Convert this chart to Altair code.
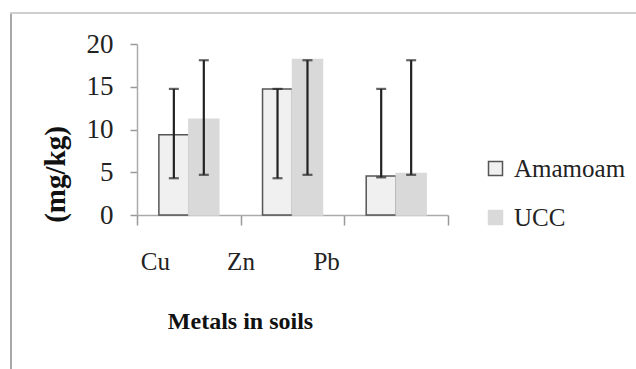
import altair as alt
import pandas as pd

metals = ["Cu", "Zn", "Pb"]
series = ["Amamoam", "UCC"]
amamoam = [9.4, 14.75, 4.55]
ucc = [11.2, 18.2, 4.85]
amamoam_low = [4.3, 4.3, 4.4]
amamoam_high = [14.75, 14.75, 14.75]
ucc_low = [4.7, 4.7, 4.7]
ucc_high = [18.1, 18.1, 18.1]
y_ticks = [0, 5, 10, 15, 20]

rows = []
for i, m in enumerate(metals):
    rows.append({"metal": m, "site": "Amamoam", "value": amamoam[i],
                 "low": amamoam_low[i], "high": amamoam_high[i]})
    rows.append({"metal": m, "site": "UCC", "value": ucc[i],
                 "low": ucc_low[i], "high": ucc_high[i]})
df = pd.DataFrame(rows)

FONT = "Times New Roman, Liberation Serif, DejaVu Serif, serif"

x_axis = alt.Axis(
    title="Metals in soils", titleFont=FONT, titleFontSize=24,
    titleFontWeight="bold", titleColor="#111",
    titleX=103, titleY=106, titleBaseline="middle", titleAlign="center",
    labelFont=FONT, labelFontSize=25, labelColor="#222", labelAngle=0,
    labelPadding=24,
    labelOffset={"condition": [
        {"test": "datum.value === 'Cu'", "value": -34},
        {"test": "datum.value === 'Zn'", "value": -52}],
        "value": -70},
    ticks=True, tickBand="extent", tickSize=10, tickColor="#999", tickWidth=1.5,
    domain=True, domainColor="#aaa", domainWidth=1.5,
)
x_enc = alt.X("metal:N", sort=metals,
              scale=alt.Scale(paddingInner=0, paddingOuter=0), axis=x_axis)
xo = alt.XOffset("site:N", sort=series,
                 scale=alt.Scale(paddingInner=0, paddingOuter=0.73))
y_scale = alt.Scale(domain=[0, 20], nice=False)

legend = alt.Legend(
    title=None, orient="none", legendX=346, legendY=112,
    symbolType="square", symbolSize=196, symbolStrokeWidth=1.5,
    labelFont=FONT, labelFontSize=25, labelColor="#222",
    rowPadding=23, labelOffset=6, labelLimit=200)

bars = alt.Chart(df).mark_bar(strokeWidth=1.5).encode(
    x=x_enc,
    xOffset=xo,
    y=alt.Y("value:Q", scale=y_scale, axis=alt.Axis(
        values=y_ticks, grid=False,
        title="(mg/kg)", titleFont=FONT, titleFontSize=29,
        titleFontWeight="bold", titleColor="#111",
        titleAngle=-90, titleBaseline="middle", titleAlign="center",
        titleX=-82, titleY=130,
        labelFont=FONT, labelFontSize=27, labelColor="#222",
        labelPadding=17, tickSize=7, tickColor="#999", tickWidth=1.5,
        domainColor="#aaa", domainWidth=1.5,
    )),
    fill=alt.Fill("site:N", sort=series,
                  scale=alt.Scale(domain=series, range=["#f0f0f0", "#d9d9d9"]),
                  legend=legend),
    stroke=alt.Stroke("site:N", sort=series,
                      scale=alt.Scale(domain=series, range=["#555555", "#d9d9d9"]),
                      legend=legend),
)

err = alt.Chart(df).mark_rule(color="#222", strokeWidth=2.2).encode(
    x=alt.X("metal:N", sort=metals, axis=x_axis),
    xOffset=xo,
    y=alt.Y("low:Q", scale=y_scale),
    y2="high:Q",
)
cap_lo = alt.Chart(df).mark_tick(color="#222", thickness=2.2, size=10).encode(
    x=alt.X("metal:N", sort=metals, axis=x_axis),
    xOffset=xo,
    y=alt.Y("low:Q", scale=y_scale),
)
cap_hi = alt.Chart(df).mark_tick(color="#222", thickness=2.2, size=10).encode(
    x=alt.X("metal:N", sort=metals, axis=x_axis),
    xOffset=xo,
    y=alt.Y("high:Q", scale=y_scale),
)

frame_left = alt.Chart(df).mark_rule(color="#a8a8a8", strokeWidth=2).encode(
    x=alt.value(-126), y=alt.value(-31), y2=alt.value(330))
frame_top = alt.Chart(df).mark_rule(color="#cfcfcf", strokeWidth=2).encode(
    x=alt.value(-127), x2=alt.value(499), y=alt.value(-31))

chart = alt.layer(frame_left, frame_top, bars, err, cap_lo, cap_hi).properties(
    width=311, height=171,
    autosize=alt.AutoSizeParams(type="none"),
    padding={"left": 137, "top": 44, "right": 188, "bottom": 154},
    background="white",
).configure_view(stroke=None)

chart.save("out.html", embed_options={"renderer": "svg", "actions": False})
